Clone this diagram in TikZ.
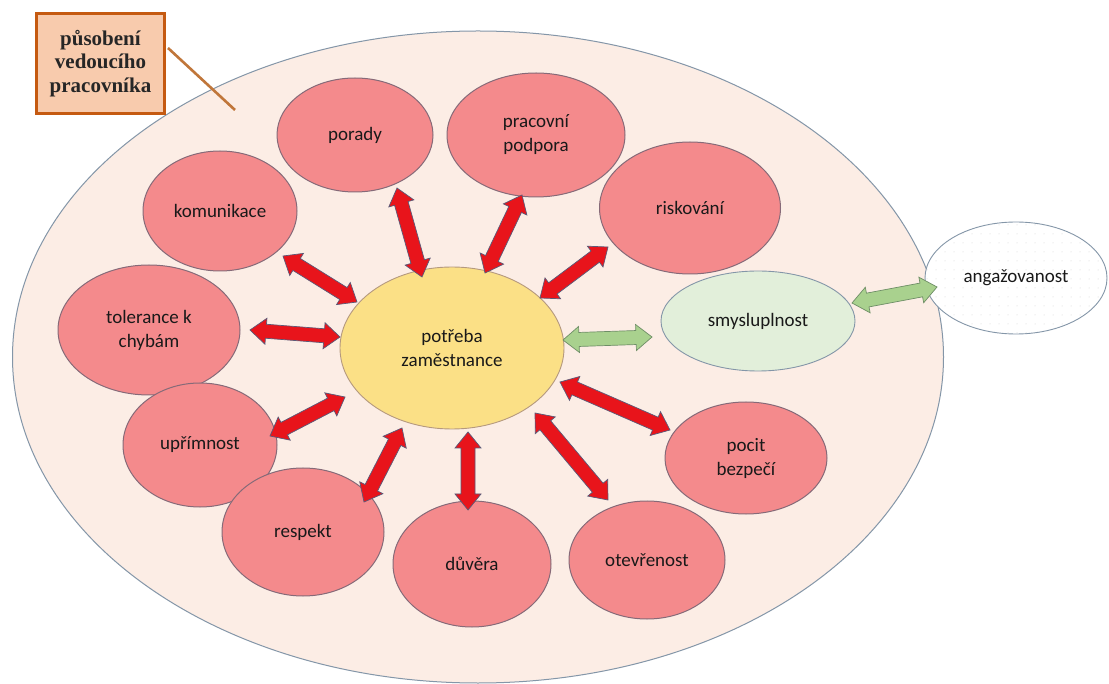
\documentclass[tikz,border=0pt]{standalone}
\usepackage{fontspec}
\setmainfont{Carlito}
\newfontfamily\labelfont{Liberation Serif}
\usetikzlibrary{calc,shapes.geometric,patterns.meta}
\definecolor{bigfill}{HTML}{FCEDE5}
\definecolor{bigline}{HTML}{8496A8}
\definecolor{pinkfill}{HTML}{F48A8C}
\definecolor{pinkline}{HTML}{866A78}
\definecolor{yellowfill}{HTML}{FBE086}
\definecolor{greenfill}{HTML}{E2EFDA}
\definecolor{arrowred}{HTML}{E8141B}
\definecolor{arrowline}{HTML}{5A5A78}
\definecolor{arrowgreen}{HTML}{A9D18E}
\definecolor{arrowgreenline}{HTML}{6E8E66}
\definecolor{boxfill}{HTML}{F8CBAD}
\definecolor{boxline}{HTML}{C55A11}
\definecolor{leaderline}{HTML}{C0763A}
\newcommand\blockarrow[3]{%
  \coordinate (ba1) at ($(#2)!16pt!(#3)$);
  \coordinate (ba2) at ($(#3)!16pt!(#2)$);
  \draw[#1] (#2) -- ($(ba1)!13pt!90:(#3)$) -- ($(ba1)!7pt!90:(#3)$)
    -- ($(ba2)!7pt!-90:(#2)$) -- ($(ba2)!13pt!-90:(#2)$) -- (#3)
    -- ($(ba2)!13pt!90:(#2)$) -- ($(ba2)!7pt!90:(#2)$)
    -- ($(ba1)!7pt!-90:(#3)$) -- ($(ba1)!13pt!-90:(#3)$) -- cycle;
}
\begin{document}
\begin{tikzpicture}[x=1pt,y=-1pt,
  txt/.style={font=\fontsize{19}{24}\selectfont, align=center, text=black!90},
  bubble/.style={ellipse, txt, draw=pinkline, line width=1pt, fill=pinkfill, inner sep=0pt},
  redarrow/.style={fill=arrowred, draw=arrowline, line width=0.7pt, line join=miter},
  greenarrow/.style={fill=arrowgreen, draw=arrowgreenline, line width=0.7pt, line join=miter}]
\useasboundingbox (0,0) rectangle (1109,684);
\fill[white] (0,0) rectangle (1109,684);
% outer ellipse
\node[ellipse, draw=bigline, line width=1pt, fill=bigfill, minimum width=931, minimum height=652, inner sep=0pt] (outer) at (478,357) {};
% label
\coordinate (lstart) at (168,48);
\coordinate (lend) at (235,110);
\draw[leaderline, line width=2.6pt] (lstart) -- (lend);
\node[draw=boxline, line width=3.5pt, fill=boxfill, minimum width=128, minimum height=100, inner sep=0pt,
  align=center, font=\labelfont\bfseries\fontsize{21}{23.5}\selectfont, text=black!85] (label) at (100.5,63.5)
  {působení\\vedoucího\\pracovníka};
% bubbles
\node[bubble, minimum width=156, minimum height=114] (porady) at (355,135) {porady};
\node[bubble, minimum width=178, minimum height=124] (podpora) at (536,135) {pracovní\\podpora};
\node[bubble, minimum width=181, minimum height=132] (risk) at (690,208) {riskování};
\node[bubble, minimum width=154, minimum height=120] (komun) at (220,211) {komunikace};
\node[bubble, minimum width=182, minimum height=130] (toler) at (149,330) {tolerance k\\chybám};
\node[bubble, minimum width=154, minimum height=124] (uprim) at (200,445) {upřímnost};
\node[bubble, minimum width=162, minimum height=128] (respekt) at (303,532) {respekt};
\node[bubble, minimum width=158, minimum height=126] (duvera) at (472,564) {důvěra};
\node[bubble, minimum width=156, minimum height=118] (otevr) at (647,560) {otevřenost};
\node[bubble, minimum width=162, minimum height=112] (pocit) at (746,458) {pocit\\bezpečí};
\node[ellipse, txt, draw=bigline, line width=0.9pt, fill=greenfill, inner sep=0pt, minimum width=194, minimum height=100] (smysl) at (758,321) {smysluplnost};
\node[ellipse, txt, draw=pinkline!60!yellowfill, line width=0.9pt, fill=yellowfill, inner sep=0pt, minimum width=224, minimum height=162] (center) at (452,348) {potřeba\\zaměstnance};
\node[ellipse, txt, draw=bigline, line width=0.9pt, fill=white, postaction={pattern={Dots[radius=0.5pt, distance=9pt]}, pattern color=gray!35}, inner sep=0pt, minimum width=182, minimum height=112] (angaz) at (1016,278) {angažovanost};
% arrow end points
\coordinate (a1s) at (422,277); \coordinate (a1e) at (397,188);
\coordinate (a2s) at (485,273); \coordinate (a2e) at (522,195);
\coordinate (a3s) at (540,298); \coordinate (a3e) at (608,247);
\coordinate (a4s) at (357,302); \coordinate (a4e) at (283,256);
\coordinate (a5s) at (340,337); \coordinate (a5e) at (250,330);
\coordinate (a6s) at (345,397); \coordinate (a6e) at (270,436);
\coordinate (a7s) at (402,428); \coordinate (a7e) at (364,502);
\coordinate (a8s) at (468,432); \coordinate (a8e) at (468,510);
\coordinate (a9s) at (535,413); \coordinate (a9e) at (608,500);
\coordinate (a10s) at (560,382); \coordinate (a10e) at (670,430);
\coordinate (g1s) at (563,340); \coordinate (g1e) at (652,337);
\coordinate (g2s) at (852,303); \coordinate (g2e) at (937,287);
\blockarrow{redarrow}{a1s}{a1e}
\blockarrow{redarrow}{a2s}{a2e}
\blockarrow{redarrow}{a3s}{a3e}
\blockarrow{redarrow}{a4s}{a4e}
\blockarrow{redarrow}{a5s}{a5e}
\blockarrow{redarrow}{a6s}{a6e}
\blockarrow{redarrow}{a7s}{a7e}
\blockarrow{redarrow}{a8s}{a8e}
\blockarrow{redarrow}{a9s}{a9e}
\blockarrow{redarrow}{a10s}{a10e}
\blockarrow{greenarrow}{g1s}{g1e}
\blockarrow{greenarrow}{g2s}{g2e}
\end{tikzpicture}
\end{document}
